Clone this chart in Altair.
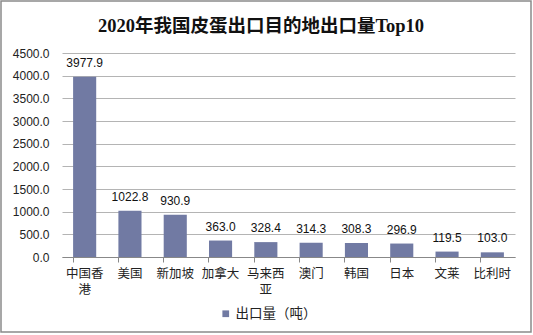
import altair as alt
import pandas as pd

categories = ["中国香港", "美国", "新加坡", "加拿大", "马来西亚", "澳门", "韩国", "日本", "文莱", "比利时"]
values = [3977.9, 1022.8, 930.9, 363.0, 328.4, 314.3, 308.3, 296.9, 119.5, 103.0]
series_name = "出口量（吨）"
y_ticks = [0, 500, 1000, 1500, 2000, 2500, 3000, 3500, 4000, 4500]
title_text = "2020年我国皮蛋出口目的地出口量Top10"

df = pd.DataFrame({"地区": categories, "出口量": values, "系列": [series_name] * len(categories)})

SANS = "Liberation Sans, Noto Sans CJK SC"
BAR = "#717aa3"

base = alt.Chart(df)

x_enc = alt.X(
    "地区:N", sort=categories, title=None,
    scale=alt.Scale(paddingInner=0.49, paddingOuter=0.245),
    axis=alt.Axis(
        labelAngle=0, labelFont=SANS, labelFontSize=12.5, labelColor="#222",
        labelPadding=5, domainColor="#888", tickColor="#888", tickSize=5,
        bandPosition=0, labelLineHeight=16,
        labelExpr="length(datum.label) > 3 ? [substring(datum.label,0,3), substring(datum.label,3)] : datum.label",
    ),
)
y_enc = alt.Y(
    "出口量:Q", title=None,
    scale=alt.Scale(domain=[0, 4500], nice=False),
    axis=alt.Axis(
        values=y_ticks, format=".1f", labelFont=SANS, labelFontSize=12,
        labelColor="#222", domain=False, ticks=False, labelPadding=13,
        gridColor="#b4b4b4", gridWidth=1, labelOverlap=False,
    ),
)

bars = base.mark_bar(color=BAR).encode(
    x=x_enc, y=y_enc,
    color=alt.Color(
        "系列:N", scale=alt.Scale(range=[BAR]),
        legend=alt.Legend(
            title=None, orient="none", legendX=157, legendY=254,
            labelFont=SANS, labelFontSize=13.5, labelColor="#222", labelOffset=3,
            symbolType="square", symbolSize=45, symbolStrokeWidth=0,
        ),
    ),
)

labels = base.mark_text(dy=-7, baseline="bottom", font=SANS, fontSize=12, color="#111").encode(
    x=x_enc,
    y=y_enc,
    text=alt.Text("出口量:Q", format=".1f"),
)

deco = pd.DataFrame({"t": [title_text]})
border = alt.Chart(deco).mark_rect(
    fill=None, stroke="#8a8a8a", strokeWidth=1.5
).encode(
    x=alt.value(-61), x2=alt.value(531 - 62), y=alt.value(-52), y2=alt.value(332 - 53)
)
title = alt.Chart(deco).mark_text(
    font="Liberation Serif, Noto Sans CJK SC", fontSize=18.5, fontWeight="bold",
    color="#111", align="center", baseline="alphabetic",
).encode(x=alt.value(261 - 62), y=alt.value(32 - 53), text="t:N")

chart = alt.layer(border, title, bars, labels).properties(
    width=453, height=204,
    autosize=alt.AutoSizeParams(type="none"),
    padding={"left": 62, "top": 53, "right": 18, "bottom": 78},
).configure_view(stroke=None)

chart.save("out.html", embed_options={"renderer": "svg", "actions": False})
